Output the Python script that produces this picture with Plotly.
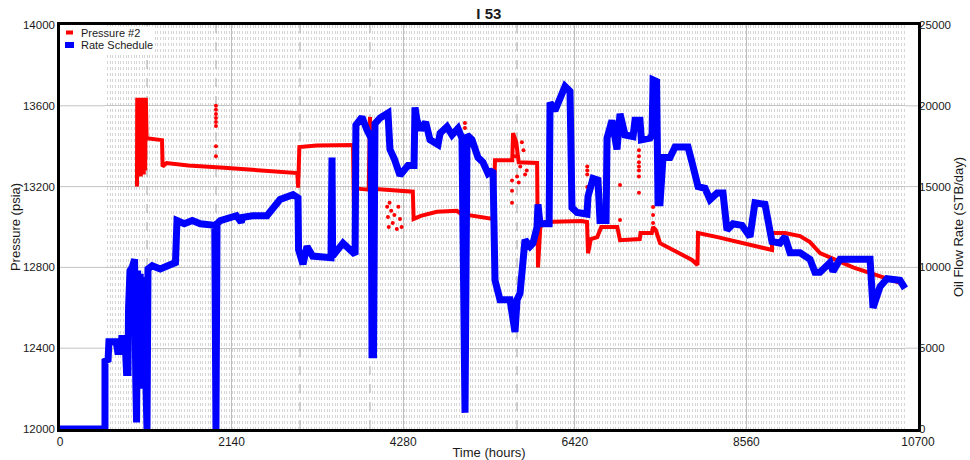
import plotly.graph_objects as go

# ---------------- data ----------------
title_text = "I 53"
x_ticks = [0, 2140, 4280, 6420, 8560, 10700]
p_ticks = [12000, 12400, 12800, 13200, 13600, 14000]
q_ticks = [0, 5000, 10000, 15000, 20000, 25000]
legend_names = ["Pressure #2", "Rate Schedule"]

# Rate schedule (hours, STB/day)
rate_t = [0, 561, 561, 600, 610, 700, 720, 760, 770, 810, 830, 848, 855, 873, 900, 930,
          945, 955, 968, 980, 1000, 1020, 1040, 1070, 1085, 1097, 1150, 1250, 1350, 1440,
          1459, 1550, 1650, 1750, 1930, 1945, 1958, 2000, 2200, 2260, 2280, 2400, 2581,
          2650, 2744, 2906, 2968, 2975, 3030, 3080, 3150, 3380, 3392, 3400, 3529, 3654,
          3680, 3690, 3766, 3829, 3880, 3891, 3910, 3928, 3991, 4090, 4115, 4170, 4240,
          4340, 4415, 4427, 4452, 4500, 4560, 4614, 4714, 4740, 4826, 4889, 4963, 5013,
          5030, 5051, 5076, 5138, 5213, 5275, 5338, 5400, 5425, 5487, 5612, 5674, 5700,
          5737, 5799, 5861, 5899, 5949, 5961, 5986, 6100, 6111, 6173, 6236, 6298, 6360,
          6385, 6448, 6572, 6585, 6647, 6709, 6734, 6810, 6822, 6884, 6946, 6984, 7046,
          7146, 7171, 7233, 7250, 7358, 7383, 7396, 7440, 7458, 7483, 7520, 7607, 7670,
          7832, 7882, 7957, 8044, 8106, 8194, 8268, 8318, 8393, 8505, 8605, 8667, 8792,
          8879, 8979, 9041, 9104, 9229, 9353, 9415, 9478, 9603, 9640, 9727, 9890, 9939,
          10064, 10102, 10139, 10226, 10313, 10476, 10538]
rate_q = [0, 0, 4200, 4300, 5400, 5400, 4800, 4800, 5600, 5600, 3500, 3500, 7500, 9800, 10000, 10500,
          3000, 400, 9800, 3500, 9600, 2500, 9400, 1000, 0, 9900, 10100, 9900, 10100, 10300,
          12900, 12700, 12900, 12700, 12600, 0, 12700, 12900, 13200, 12800, 13100, 13200, 13200,
          13700, 14200, 14500, 14300, 11100, 10200, 11300, 10700, 10600, 16800, 10700, 11500, 10900,
          10800, 18800, 19300, 18500, 18000, 4600, 4600, 18900, 19250, 19550, 17300, 16700, 15700,
          16300, 16300, 19900, 19100, 18500, 19000, 17900, 17600, 18300, 18700, 18200, 18600, 18000,
          1000, 1000, 18200, 17900, 16800, 16500, 15800, 16000, 9200, 8000, 8000, 6000, 8000,
          8400, 11700, 11300, 11500, 12500, 13900, 12700, 12700, 20200, 19700, 20500, 21200, 20900,
          13700, 13400, 13300, 14400, 15500, 15400, 12900, 12900, 18000, 19100, 17300, 19500, 18200,
          18100, 19100, 19100, 17900, 18000, 18200, 21600, 21500, 14000, 14000, 16800, 16800, 17450,
          17450, 16500, 15000, 14900, 14200, 14600, 14600, 12300, 12700, 12600, 11900, 14000, 13900,
          11600, 11500, 11900, 10900, 10900, 10500, 9700, 9700, 10300, 9750, 10500, 10500, 10600,
          10600, 10500, 7500, 8800, 9300, 9200, 8700]

# Pressure #2 gauge (hours, psia) - main trace
pres_t = [960, 963, 972, 980, 990, 998, 1008, 1016, 1026, 1034, 1044, 1052, 1062, 1070, 1080,
          1272, 1280, 1330, 1600, 2000, 2400, 2960, 2970, 2985, 3200, 3654,
          3670, 3700, 3850, 3866, 3880, 4400, 4410, 4500, 4700, 4950, 5000, 5400, 5425, 5640,
          5650, 5690, 5720, 5950, 5961, 5990, 6050, 6500, 6572, 6585, 6620, 6700, 6750, 6950,
          6984, 7230, 7240, 7380, 7396, 7430, 7483, 7882, 7950, 7957, 8200, 8879, 8880, 9041,
          9229, 9353, 9478, 9727, 9890, 10476]
pres_p = [13200, 13640, 13250, 13640, 13280, 13640, 13250, 13640, 13300, 13640, 13260, 13640, 13280, 13640, 13440,
          13430, 13300, 13317, 13305, 13295, 13285, 13267, 13195, 13396, 13404, 13406,
          13000, 13190, 13185, 13545, 13190, 13175, 13040, 13055, 13075, 13080, 13065, 13040, 13330, 13330,
          13465, 13420, 13320, 13317, 12800, 13000, 13025, 13030, 13025, 12870, 12940, 12950, 13000, 13000,
          12935, 12940, 12970, 12970, 13000, 12985, 12920, 12837, 12812, 12970, 12950, 12886, 12970, 12970,
          12955, 12925, 12871, 12830, 12800, 12723]

# Pressure #2 gauge - scattered readings
dots_t = [1945, 1945, 1945, 1945, 1945, 1945, 1945, 1945,
          4080, 4090, 4100, 4110, 4130, 4150, 4170, 4200, 4220, 4240, 4260,
          5050, 5050,
          5637, 5637, 5637, 5660, 5680, 5700, 5720, 5740, 5760, 5780, 5800, 5820,
          6575, 6575, 6575, 6575, 6734, 6984, 6984,
          7220, 7220, 7220, 7220, 7220, 7220, 7220,
          7396, 7396, 7396]
dots_p = [13600, 13580, 13560, 13540, 13520, 13500, 13400, 13350,
          13100, 13050, 13000, 13120, 13080, 13020, 13060, 12990, 13100, 13040, 13000,
          13515, 13490,
          13230, 13180, 13120, 13400, 13350, 13250, 13220, 13300, 13420, 13380, 13260, 13280,
          13300, 13280, 13260, 13198, 13183, 13208, 13035,
          13380, 13350, 13320, 13300, 13280, 13250, 13170,
          13099, 13060, 13020]

# flow-period markers
event_t = [1085, 1945, 2993, 3866, 5699]
flow_start = 561
flow_end = 10540

# ---------------- figure ----------------
RED = "#ff0000"
BLUE = "#0000ff"
FONT = "Liberation Sans, Arial, sans-serif"
TXT = "#1a1a1a"

fig = go.Figure()

fig.add_trace(go.Scatter(x=pres_t, y=pres_p, mode="lines", name=legend_names[0],
                         line=dict(color=RED, width=4), yaxis="y", showlegend=False,
                         hoverinfo="skip"))
fig.add_trace(go.Scatter(x=dots_t, y=dots_p, mode="markers", marker=dict(color=RED, size=4),
                         yaxis="y", showlegend=False, hoverinfo="skip"))
fig.add_trace(go.Scatter(x=rate_t, y=rate_q, mode="lines", name=legend_names[1],
                         line=dict(color=BLUE, width=7), yaxis="y2", showlegend=False,
                         hoverinfo="skip"))

shapes = []
# white areas outside the flowing period (hide dense period grid)
for a, b in [(x_ticks[0], flow_start), (flow_end, x_ticks[-1])]:
    shapes.append(dict(type="rect", xref="x", yref="y", x0=a, x1=b,
                       y0=p_ticks[0], y1=p_ticks[-1],
                       fillcolor="white", line=dict(width=0), layer="between"))
    for pv in p_ticks[1:-1]:
        shapes.append(dict(type="line", xref="x", yref="y", x0=a, x1=b, y0=pv, y1=pv,
                           line=dict(color="#c4c4c4", width=1), layer="between"))
for et in event_t:
    shapes.append(dict(type="line", xref="x", yref="y", x0=et, x1=et,
                       y0=p_ticks[0], y1=p_ticks[-1],
                       line=dict(color="#a8a8a8", width=1, dash="dash"), layer="between"))

# compact legend box (top-left, inside the frame)
PW, PH = 858.0, 404.0
shapes.append(dict(type="rect", xref="paper", yref="paper", x0=0.002, x1=95 / PW,
                   y0=1 - 27 / PH, y1=0.996, fillcolor="white", line=dict(width=0),
                   layer="above"))
shapes.append(dict(type="line", xref="paper", yref="paper", x0=6 / PW, x1=13 / PW,
                   y0=1 - 7.5 / PH, y1=1 - 7.5 / PH, line=dict(color=RED, width=4),
                   layer="above"))
shapes.append(dict(type="line", xref="paper", yref="paper", x0=5 / PW, x1=14 / PW,
                   y0=1 - 20 / PH, y1=1 - 20 / PH, line=dict(color=BLUE, width=6),
                   layer="above"))
annotations = [
    dict(text=legend_names[0], xref="paper", yref="paper", x=19 / PW, y=1 - 7.5 / PH,
         xanchor="left", yanchor="middle", showarrow=False,
         font=dict(size=11, color=TXT, family=FONT)),
    dict(text=legend_names[1], xref="paper", yref="paper", x=19 / PW, y=1 - 20 / PH,
         xanchor="left", yanchor="middle", showarrow=False,
         font=dict(size=11, color=TXT, family=FONT)),
]

fig.update_layout(
    width=970, height=460,
    margin=dict(l=60, r=52, t=25, b=31),
    paper_bgcolor="white", plot_bgcolor="white",
    font=dict(family=FONT, size=12, color=TXT),
    title=dict(text="<b>%s</b>" % title_text, x=0.504, xanchor="center", y=1 - 14 / 460,
               yanchor="middle", yref="container", font=dict(size=15, color=TXT)),
    shapes=shapes,
    annotations=annotations,
    showlegend=False,
    xaxis=dict(range=[x_ticks[0], x_ticks[-1]], tickvals=x_ticks,
               ticktext=[str(v) for v in x_ticks], ticks="", automargin=False,
               showgrid=True, gridcolor="#bdbdbd", gridwidth=1, zeroline=False,
               showline=True, linecolor="black", linewidth=3, mirror=True,
               title=dict(text="Time (hours)", font=dict(size=13), standoff=2),
               tickfont=dict(size=12),
               minor=dict(dtick=33, tick0=0, showgrid=True, gridcolor="#d6d6d6",
                          gridwidth=1, griddash="dot")),
    yaxis=dict(range=[p_ticks[0], p_ticks[-1]], tickvals=p_ticks,
               ticktext=[str(v) for v in p_ticks], ticks="", automargin=False,
               showgrid=True, gridcolor="#c4c4c4", gridwidth=1, zeroline=False,
               showline=True, linecolor="black", linewidth=2.5, mirror=True,
               title=dict(text="Pressure (psia)", font=dict(size=13), standoff=0),
               tickfont=dict(size=11.5)),
    yaxis2=dict(range=[q_ticks[0], q_ticks[-1]], tickvals=q_ticks,
                ticktext=[str(v) for v in q_ticks], ticks="", automargin=False,
                overlaying="y", side="right", showgrid=False, zeroline=False,
                title=dict(text="Oil Flow Rate (STB/day)", font=dict(size=13), standoff=2),
                tickfont=dict(size=11.5)),
)

fig.write_html("out.html")
